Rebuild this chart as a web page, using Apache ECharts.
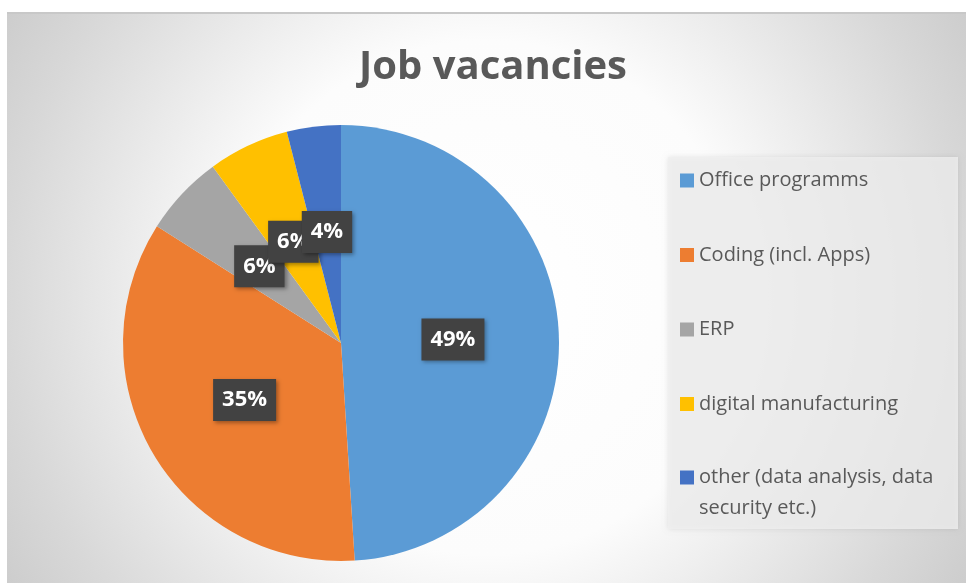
<!DOCTYPE html>
<html><head><meta charset="utf-8">
<script src="https://cdn.jsdelivr.net/npm/echarts@6/dist/echarts.min.js"></script>
<style>html,body{margin:0;padding:0;background:#fff}#c{width:966px;height:583px}</style>
</head><body><div id="c"></div>
<script>
var categories = ['Office programms', 'Coding (incl. Apps)', 'ERP', 'digital manufacturing', 'other (data analysis, data\nsecurity etc.)'];
var values = [49, 35, 6, 6, 4];
var colors = ['#5B9BD5', '#ED7D31', '#A5A5A5', '#FFC000', '#4472C4'];
var titleText = 'Job vacancies';

var font = 'Open Sans';
var chart = echarts.init(document.getElementById('c'));
var data = categories.map(function (c, i) { return { name: c, value: values[i], itemStyle: { color: colors[i] } }; });

chart.setOption({
  animation: false,
  graphic: [
    { type: 'rect', z: -10, shape: { x: 7, y: 12, width: 959, height: 571 },
      style: { fill: new echarts.graphic.RadialGradient(0.5, 0.5, 1.0, [
        { offset: 0, color: '#ffffff' }, { offset: 0.45, color: '#fcfcfc' },
        { offset: 0.84, color: '#d8d8d8' }, { offset: 1, color: '#cbcbcb' }]) } },
    { type: 'rect', z: -9, shape: { x: 7, y: 12, width: 959, height: 2 }, style: { fill: '#c8c8c8' } },
    { type: 'rect', z: -5, shape: { x: 668, y: 157, width: 290, height: 372 },
      style: { fill: 'rgba(240,240,240,0.78)', shadowBlur: 5, shadowColor: 'rgba(0,0,0,0.12)' } }
  ],
  title: { text: titleText, left: 488, textAlign: 'center', top: 43,
    textStyle: { fontFamily: font, fontWeight: 'bold', fontSize: 40, color: '#595959' } },
  legend: [
    { orient: 'vertical', left: 680, top: 165, padding: 0, itemWidth: 14, itemHeight: 14, itemGap: 43.5,
      icon: 'rect', data: categories.slice(0, 4),
      textStyle: { fontFamily: font, fontSize: 20, color: '#595959', lineHeight: 31 } },
    { orient: 'vertical', left: 680, top: 431, padding: 0, itemWidth: 14, itemHeight: 14,
      icon: 'rect', data: categories.slice(4),
      formatter: function (name) { return '\n' + name; },
      textStyle: { fontFamily: font, fontSize: 20, color: '#595959', lineHeight: 31 } }
  ],
  series: [{
    type: 'pie', center: [341, 343], radius: 218, startAngle: 90, clockwise: true,
    avoidLabelOverlap: false,
    labelLayout: { hideOverlap: false },
    data: data,
    label: { show: true, position: 'inside', formatter: '{d}%',
      fontFamily: font, fontWeight: 'bold', fontSize: 22, color: '#ffffff',
      backgroundColor: '#424242', padding: [11, 9, 9, 9],
      shadowColor: 'rgba(0,0,0,0.35)', shadowBlur: 4, shadowOffsetX: 2, shadowOffsetY: 2 },
    labelLine: { show: false },
    emphasis: { disabled: true }
  }]
});
</script></body></html>
